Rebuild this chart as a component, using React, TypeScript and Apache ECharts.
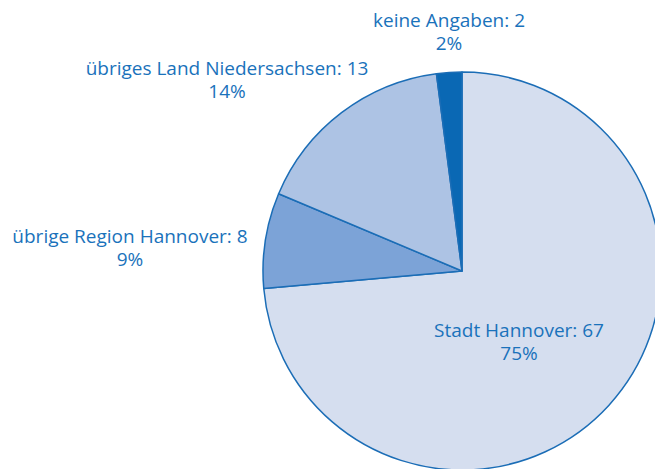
import React, { useEffect, useRef } from "react";
import * as echarts from "echarts";

const categories = ["Stadt Hannover", "übrige Region Hannover", "übriges Land Niedersachsen", "keine Angaben"];
// numbers printed in the labels
const labelValues = [67, 8, 13, 2];
const percentLabels = ["75%", "9%", "14%", "2%"];
// slice sizes as drawn in the picture (share of the circle, in %)
const sliceShares = [73.6, 7.75, 16.6, 2.05];
const colors = ["#d5deef", "#7ca3d7", "#adc3e4", "#0a68b4"];
const labelCenters: [number, number][] = [
  [519, 341],
  [130, 247],
  [227, 79],
  [449, 31],
];

export default function App() {
  const ref = useRef<HTMLDivElement>(null);
  useEffect(() => {
    if (!ref.current) return;
    const chart = echarts.init(ref.current, null, { renderer: "svg" });
    chart.setOption({
      animation: false,
      backgroundColor: "#ffffff",
      series: [
        {
          type: "pie",
          center: [462, 271],
          radius: [0, 199],
          startAngle: 90,
          clockwise: true,
          avoidLabelOverlap: false,
          data: categories.map((name, i) => ({
            name,
            value: sliceShares[i],
            itemStyle: { color: colors[i] },
          })),
          itemStyle: { borderColor: "#1b6db6", borderWidth: 1.5 },
          label: {
            show: true,
            position: "outside",
            color: "#1a72bb",
            fontFamily: "Open Sans",
            fontSize: 19,
            lineHeight: 23,
            align: "center",
            formatter: (p: any) =>
              `${p.name}: ${labelValues[p.dataIndex]}\n${percentLabels[p.dataIndex]}`,
          },
          labelLine: { show: false },
          labelLayout: (p: any) => ({
            x: labelCenters[p.dataIndex][0],
            y: labelCenters[p.dataIndex][1],
            align: "center",
            verticalAlign: "middle",
          }),
          emphasis: { disabled: true },
        },
      ],
    });
    return () => chart.dispose();
  }, []);
  return (
    <div
      ref={ref}
      style={{ position: "fixed", left: 0, top: 0, width: 655, height: 469 }}
    />
  );
}
